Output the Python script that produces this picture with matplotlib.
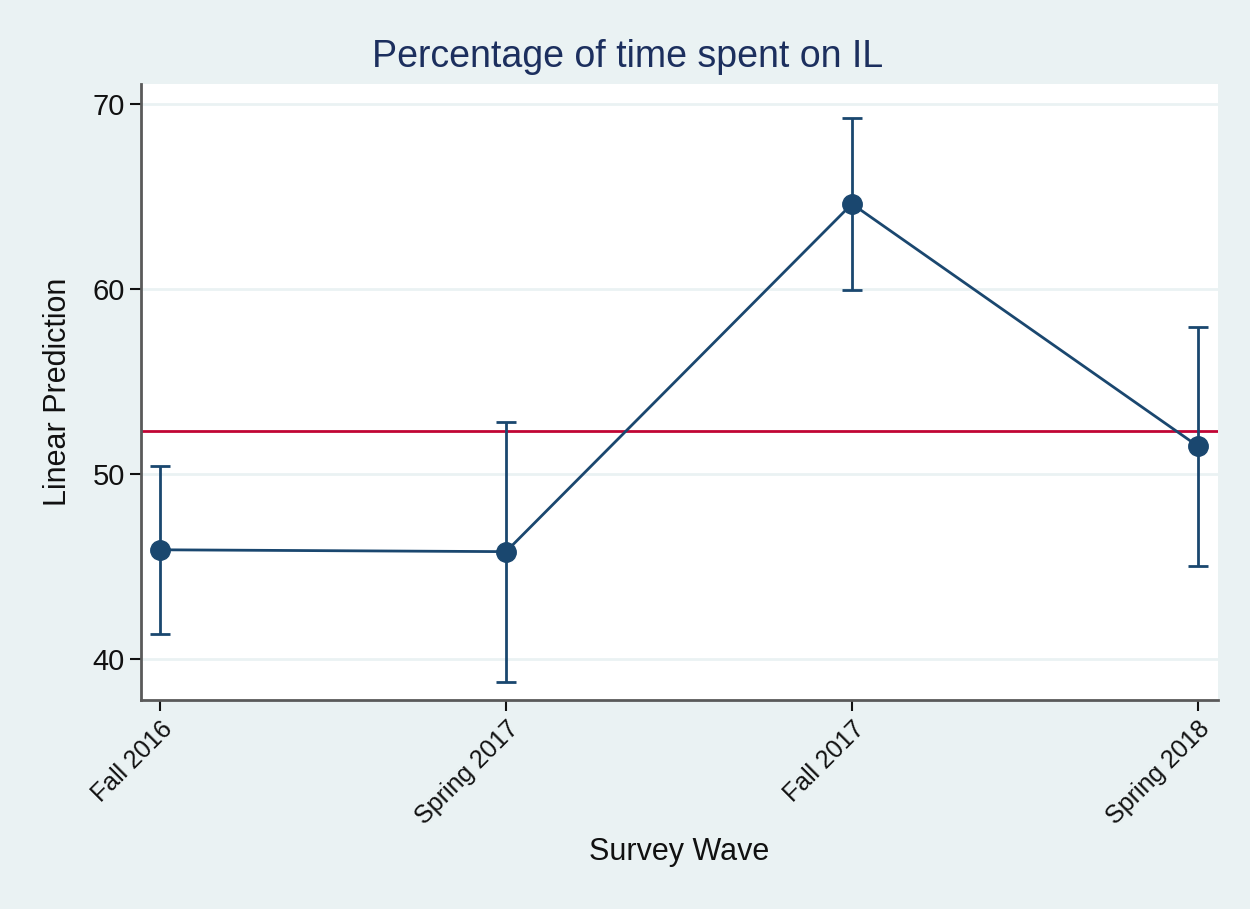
import matplotlib.pyplot as plt

waves = ['Fall 2016', 'Spring 2017', 'Fall 2017', 'Spring 2018']
pred = [45.9, 45.8, 64.6, 51.5]
ci_low = [41.35, 38.75, 59.95, 45.0]
ci_high = [50.45, 52.8, 69.25, 57.95]
mean_line = 52.3

navy = '#1a476f'
bg = '#eaf2f3'

plt.rcParams['font.family'] = ['Liberation Sans', 'DejaVu Sans']

fig = plt.figure(figsize=(12.5, 9.09), dpi=100, facecolor=bg)
ax = fig.add_axes([141 / 1250, 1 - 700 / 909, (1218 - 141) / 1250, (700 - 84) / 909])
ax.set_facecolor('white')

x = list(range(1, len(waves) + 1))
yerr = [[p - lo for p, lo in zip(pred, ci_low)], [hi - p for p, hi in zip(pred, ci_high)]]

# mean reference line, CIs, then the connected predictions on top
ax.axhline(mean_line, color='#c10534', lw=2, zorder=2)
ax.errorbar(x, pred, yerr=yerr, fmt='none', ecolor=navy, elinewidth=2, capsize=7, capthick=2, zorder=3)
ax.plot(x, pred, color=navy, lw=2, marker='o', markersize=14, zorder=4)

ax.set_xlim(0.945, 4.058)
ax.set_ylim(37.78, 71.08)
ax.set_yticks([40, 50, 60, 70])
ax.set_xticks(x)
ax.set_xticklabels(waves, rotation=45, ha='right', va='top', rotation_mode='anchor')
ax.grid(axis='y', color=bg, lw=2)
ax.set_axisbelow(True)

for side in ['top', 'right']:
    ax.spines[side].set_visible(False)
for side in ['left', 'bottom']:
    ax.spines[side].set_color('#5a5a5a')
    ax.spines[side].set_linewidth(2)

ax.tick_params(axis='both', colors='#111111', labelsize=21, length=8, width=1.5)
ax.tick_params(axis='x', labelsize=18, pad=4)

fig.text(0.502, 1 - 57 / 909, 'Percentage of time spent on IL', fontsize=27,
         color='#1c2f5e', ha='center', va='center')
ax.set_ylabel('Linear Prediction', fontsize=22, color='#111111', labelpad=14)
ax.set_xlabel('Survey Wave', fontsize=22, color='#111111', labelpad=6)

fig.savefig('out.png', dpi=100, facecolor=bg)
